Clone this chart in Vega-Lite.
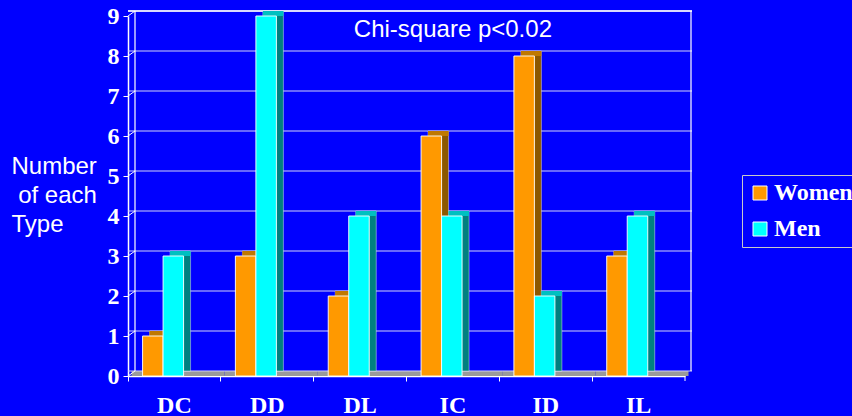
{
  "$schema": "https://vega.github.io/schema/vega-lite/v6.json",
  "autosize": "none",
  "width": 557,
  "height": 360,
  "padding": {"left": 128, "top": 16, "right": 167, "bottom": 40},
  "background": "#0000FF",
  "config": {
    "view": {"stroke": null},
    "axis": {"grid": false, "domainColor": "#FFFFFF", "tickColor": "#FFFFFF", "labelColor": "#FFFFFF", "titleColor": "#FFFFFF"},
    "axisY": {"labelOverlap": false, "labelBound": false, "labelFlush": false, "tickCount": 10}
  },
  "datasets": {
    "counts": [
      {"type": "DC", "series": "Women", "count": 1},
      {"type": "DC", "series": "Men", "count": 3},
      {"type": "DD", "series": "Women", "count": 3},
      {"type": "DD", "series": "Men", "count": 9},
      {"type": "DL", "series": "Women", "count": 2},
      {"type": "DL", "series": "Men", "count": 4},
      {"type": "IC", "series": "Women", "count": 6},
      {"type": "IC", "series": "Men", "count": 4},
      {"type": "ID", "series": "Women", "count": 8},
      {"type": "ID", "series": "Men", "count": 2},
      {"type": "IL", "series": "Women", "count": 3},
      {"type": "IL", "series": "Men", "count": 4}
    ],
    "levels": [
      {"k": 0}, {"k": 1}, {"k": 2}, {"k": 3}, {"k": 4},
      {"k": 5}, {"k": 6}, {"k": 7}, {"k": 8}, {"k": 9}
    ],
    "types": [
      {"type": "DC"}, {"type": "DD"}, {"type": "DL"}, {"type": "IC"}, {"type": "ID"}, {"type": "IL"}
    ],
    "notes": [
      {"note": "Chi-square p<0.02"}
    ]
  },
  "encoding": {
    "x": {
      "field": "type",
      "type": "nominal",
      "sort": ["DC", "DD", "DL", "IC", "ID", "IL"],
      "scale": {"domain": ["DC", "DD", "DL", "IC", "ID", "IL"], "paddingInner": 0, "paddingOuter": 0},
      "axis": {
        "title": null,
        "labelAngle": 0,
        "bandPosition": 0,
        "tickSize": 5,
        "labelPadding": 12,
        "labelFont": "Liberation Serif",
        "labelFontWeight": "bold",
        "labelFontSize": 24,
        "labelAlign": "center",
        "domainWidth": 1.5
      }
    }
  },
  "layer": [
    {
      "data": {"name": "types"},
      "mark": {"type": "bar", "fill": "#9A9A9A", "xOffset": 3.5, "y2Offset": -5},
      "encoding": {
        "y": {
          "datum": 0,
          "type": "quantitative",
          "scale": {"domain": [0, 9], "nice": false},
          "axis": {
            "title": ["Number", "\u200b\u00a0of each", "Type"],
            "titleAngle": 0,
            "titleAlign": "left",
            "titleBaseline": "alphabetic",
            "titleX": -117,
            "titleY": 157,
            "titleLineHeight": 29,
            "titleFont": "Liberation Sans",
            "titleFontWeight": "normal",
            "titleFontSize": 24,
            "values": [0, 1, 2, 3, 4, 5, 6, 7, 8, 9],
            "labelExpr": "format(datum.value, 'd')",
            "labelOverlap": false,
            "labelBound": false,
            "labelFlush": false,
            "tickSize": 5,
            "labelPadding": 4,
            "labelFont": "Liberation Serif",
            "labelFontWeight": "bold",
            "labelFontSize": 24,
            "domainWidth": 1.5
          }
        },
        "y2": {"datum": 0}
      }
    },
    {
      "data": {"name": "levels"},
      "mark": {"type": "rule", "color": "#D0D0F8", "strokeWidth": 1.2, "xOffset": 7, "x2Offset": 6, "yOffset": -5},
      "encoding": {
        "x": null,
        "y": {"field": "k", "type": "quantitative"}
      }
    },
    {
      "data": {"name": "levels"},
      "mark": {"type": "rule", "color": "#FFFFFF", "strokeWidth": 1, "x2Offset": 7, "y2Offset": -5},
      "encoding": {
        "x": {"datum": "DC", "bandPosition": 0},
        "x2": {"datum": "DC", "bandPosition": 0},
        "y": {"field": "k", "type": "quantitative"},
        "y2": {"field": "k"}
      }
    },
    {
      "data": {"name": "notes"},
      "mark": {"type": "rule", "color": "#FFFFFF", "strokeWidth": 1.2, "xOffset": 7, "yOffset": -5, "y2Offset": -5},
      "encoding": {
        "x": {"datum": "DC", "bandPosition": 0},
        "y": {"datum": 0, "type": "quantitative"},
        "y2": {"datum": 9}
      }
    },
    {
      "data": {"name": "notes"},
      "mark": {"type": "rule", "color": "#FFFFFF", "strokeWidth": 1.2, "xOffset": 6, "yOffset": -5, "y2Offset": -5},
      "encoding": {
        "x": {"datum": "IL", "bandPosition": 1},
        "y": {"datum": 0, "type": "quantitative"},
        "y2": {"datum": 9}
      }
    },
    {
      "data": {"name": "notes"},
      "mark": {"type": "rule", "color": "#FFFFFF", "strokeWidth": 1.5, "xOffset": 7, "x2Offset": 6, "yOffset": -5},
      "encoding": {
        "x": null,
        "y": {"datum": 9, "type": "quantitative"}
      }
    },
    {
      "data": {"name": "notes"},
      "mark": {"type": "rule", "color": "#FFFFFF", "strokeWidth": 1, "y2Offset": 5},
      "encoding": {
        "x": {"datum": "IL", "bandPosition": 1},
        "y": {"datum": 0, "type": "quantitative"},
        "y2": {"datum": 0}
      }
    },
    {
      "data": {"name": "counts"},
      "transform": [{"filter": "datum.series === 'Women'"}],
      "mark": {"type": "bar", "width": {"band": 0.2209}, "xOffset": -14.6, "yOffset": -5, "y2Offset": -5, "fill": "#8C5800", "stroke": "#FFFFFF", "strokeWidth": 0.6, "strokeOpacity": 0.7},
      "encoding": {
        "y": {"field": "count", "type": "quantitative"},
        "y2": {"datum": 0}
      }
    },
    {
      "data": {"name": "counts"},
      "transform": [{"filter": "datum.series === 'Men'"}],
      "mark": {"type": "bar", "width": {"band": 0.2209}, "xOffset": 5.9, "yOffset": -5, "y2Offset": -5, "fill": "#008080", "stroke": "#FFFFFF", "strokeWidth": 0.6, "strokeOpacity": 0.7},
      "encoding": {
        "y": {"field": "count", "type": "quantitative"},
        "y2": {"datum": 0}
      }
    },
    {
      "data": {"name": "counts"},
      "transform": [{"filter": "datum.series === 'Women'"}],
      "mark": {"type": "bar", "width": {"band": 0.2209}, "xOffset": -14.6, "yOffset": -5, "y2Offset": 0, "fill": "#C07800"},
      "encoding": {
        "y": {"field": "count", "type": "quantitative"},
        "y2": {"field": "count"}
      }
    },
    {
      "data": {"name": "counts"},
      "transform": [{"filter": "datum.series === 'Men'"}],
      "mark": {"type": "bar", "width": {"band": 0.2209}, "xOffset": 5.9, "yOffset": -5, "y2Offset": 0, "fill": "#00C0C0"},
      "encoding": {
        "y": {"field": "count", "type": "quantitative"},
        "y2": {"field": "count"}
      }
    },
    {
      "data": {"name": "counts"},
      "transform": [{"filter": "datum.series === 'Women'"}],
      "mark": {"type": "bar", "width": {"band": 0.2209}, "xOffset": -21.6, "stroke": "#FFFFFF", "strokeWidth": 1, "strokeOpacity": 0.9},
      "encoding": {
        "y": {"field": "count", "type": "quantitative"},
        "y2": {"datum": 0},
        "color": {
          "field": "series",
          "type": "nominal",
          "sort": ["Women", "Men"],
          "scale": {"domain": ["Women", "Men"], "range": ["#FF9900", "#00FFFF"]},
          "legend": {
            "title": null,
            "orient": "none",
            "legendX": 614,
            "legendY": 159,
            "padding": 6,
            "strokeColor": "#C8C8C8",
            "fillColor": "#0000FF",
            "symbolType": "square",
            "symbolSize": 196,
            "symbolStrokeColor": "#E0E0E0",
            "symbolStrokeWidth": 1,
            "symbolOpacity": 1,
            "labelFont": "Liberation Serif",
            "labelFontWeight": "bold",
            "labelFontSize": 24,
            "labelColor": "#FFFFFF",
            "labelOffset": 2,
            "rowPadding": 12
          }
        }
      }
    },
    {
      "data": {"name": "counts"},
      "transform": [{"filter": "datum.series === 'Men'"}],
      "mark": {"type": "bar", "width": {"band": 0.2209}, "xOffset": -1.1, "stroke": "#FFFFFF", "strokeWidth": 1, "strokeOpacity": 0.9},
      "encoding": {
        "y": {"field": "count", "type": "quantitative"},
        "y2": {"datum": 0},
        "color": {"field": "series", "type": "nominal", "sort": ["Women", "Men"]}
      }
    },
    {
      "data": {"name": "notes"},
      "mark": {"type": "text", "font": "Liberation Sans", "fontSize": 24, "fill": "#FFFFFF", "align": "center", "baseline": "alphabetic"},
      "encoding": {
        "x": {"datum": "IC", "type": "nominal"},
        "y": {"datum": 8.47, "type": "quantitative"},
        "text": {"field": "note", "type": "nominal"}
      }
    }
  ]
}
